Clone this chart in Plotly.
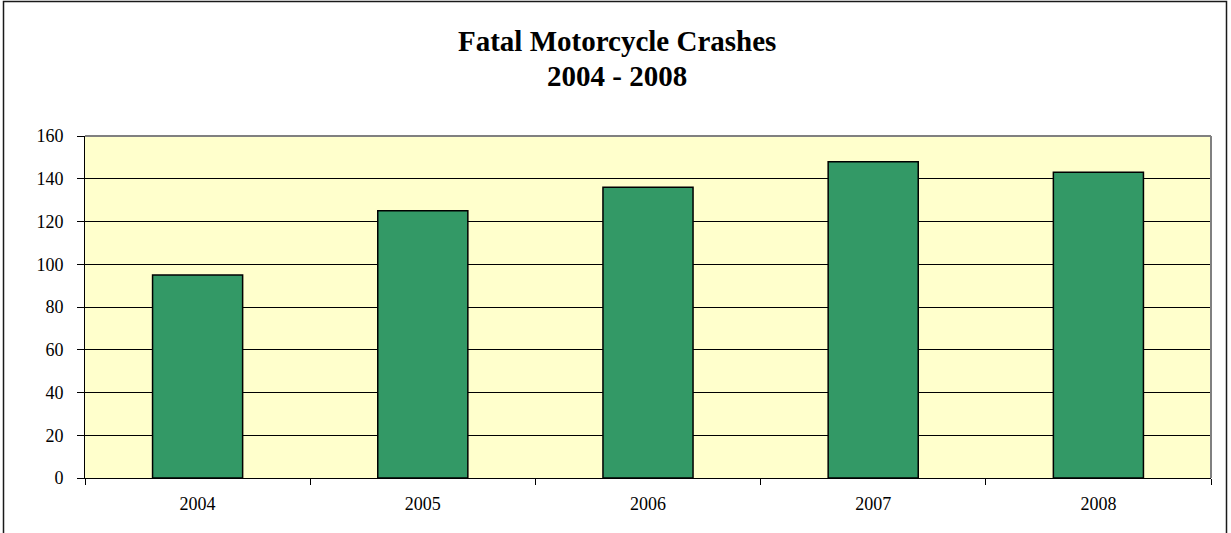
import plotly.graph_objects as go

years = ["2004", "2005", "2006", "2007", "2008"]
crashes = [95, 125, 136, 148, 143]
y_ticks = [0, 20, 40, 60, 80, 100, 120, 140, 160]

W, H = 1231, 533
L, R, T, B = 85, 20, 136, 55
pw, ph = W - L - R, H - T - B

def px(x):
    return (x - L) / pw

def py(y):
    return (H - B - y) / ph

fig = go.Figure()
fig.add_trace(go.Bar(
    x=years, y=crashes,
    marker=dict(color="#339966", line=dict(color="#000000", width=1.5)),
    hoverinfo="x+y",
))

font_serif = "Liberation Serif, Times New Roman, serif"

fig.update_layout(
    width=W, height=H,
    margin=dict(l=L, r=R, t=T, b=B),
    paper_bgcolor="#FFFFFF",
    plot_bgcolor="#FFFFCC",
    bargap=0.6,
    showlegend=False,
    font=dict(family=font_serif, color="#000000", size=18),
    xaxis=dict(
        type="category",
        tickson="boundaries",
        ticks="outside", ticklen=6, tickcolor="#000000", tickwidth=1,
        showline=True, linecolor="#000000", linewidth=1,
        showgrid=False,
        tickfont=dict(family=font_serif, size=18),
        ticklabelstandoff=9,
    ),
    yaxis=dict(
        range=[0, 160],
        tickvals=y_ticks,
        ticks="outside", ticklen=7, tickcolor="#000000", tickwidth=1,
        showline=True, linecolor="#000000", linewidth=1,
        showgrid=True, gridcolor="#000000", gridwidth=1,
        zeroline=False,
        tickfont=dict(family=font_serif, size=18),
        ticklabelstandoff=10,
    ),
    shapes=[
        # plot area border (top and right)
        dict(type="line", xref="paper", yref="paper", x0=0, x1=1, y0=1, y1=1,
             line=dict(color="#808080", width=2), layer="above"),
        dict(type="line", xref="paper", yref="paper", x0=1, x1=1, y0=0, y1=1,
             line=dict(color="#808080", width=2), layer="above"),
        # chart area border
        dict(type="rect", xref="paper", yref="paper",
             x0=px(3.5), x1=px(1226.5), y0=py(545), y1=py(1.5),
             line=dict(color="#1a1a1a", width=1.5), fillcolor="rgba(0,0,0,0)",
             layer="above"),
    ],
    annotations=[
        dict(text="<b>Fatal Motorcycle Crashes</b>", xref="paper", yref="paper",
             x=px(617), y=py(40.5), xanchor="center", yanchor="middle",
             showarrow=False, font=dict(family=font_serif, size=29, color="#000000")),
        dict(text="<b>2004 - 2008</b>", xref="paper", yref="paper",
             x=px(617), y=py(76.5), xanchor="center", yanchor="middle",
             showarrow=False, font=dict(family=font_serif, size=29, color="#000000")),
    ],
)

fig.write_html(
    "out.html",
    config={"displayModeBar": False},
    post_script="document.body.style.margin='0';document.body.style.overflow='hidden';",
)
